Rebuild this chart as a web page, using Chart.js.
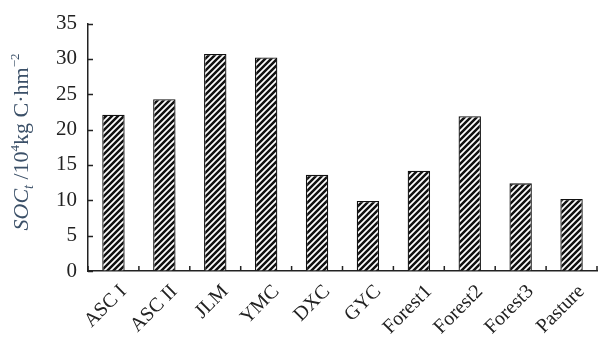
<!DOCTYPE html>
<html>
<head>
<meta charset="utf-8">
<script src="https://cdn.jsdelivr.net/npm/chart.js@4.4.1/dist/chart.umd.min.js"></script>
<style>
  html, body { margin: 0; padding: 0; background: #fff; }
  #wrap { width: 600px; height: 341px; }
</style>
</head>
<body>
<div id="wrap"><canvas id="c" width="600" height="341"></canvas></div>
<script>
// Soil organic carbon stock per site
const categories = ['ASC I', 'ASC II', 'JLM', 'YMC', 'DXC', 'GYC', 'Forest1', 'Forest2', 'Forest3', 'Pasture'];
const socValues = [22.1, 24.3, 30.7, 30.2, 13.6, 9.9, 14.2, 21.9, 12.4, 10.2];
const yTicks = [0, 5, 10, 15, 20, 25, 30, 35];

// Diagonal "/" hatch fill
function makeHatch() {
  const s = 6;
  const cv = document.createElement('canvas');
  cv.width = s; cv.height = s;
  const g = cv.getContext('2d');
  g.fillStyle = '#fff';
  g.fillRect(0, 0, s, s);
  g.strokeStyle = '#111';
  g.lineWidth = 2.5;
  g.beginPath();
  g.moveTo(0, s); g.lineTo(s, 0);
  g.moveTo(-2, 2); g.lineTo(2, -2);
  g.moveTo(s - 2, s + 2); g.lineTo(s + 2, s - 2);
  g.stroke();
  return g.createPattern(cv, 'repeat');
}

// Inward tick marks on both axes
const innerTicks = {
  id: 'innerTicks',
  afterDraw(chart) {
    const ctx = chart.ctx;
    const x = chart.scales.x, y = chart.scales.y;
    ctx.save();
    ctx.strokeStyle = '#222';
    ctx.lineWidth = 1.5;
    ctx.beginPath();
    yTicks.forEach(v => {
      const py = Math.round(y.getPixelForValue(v)) + 0.5;
      ctx.moveTo(x.left, py); ctx.lineTo(x.left + 5, py);
    });
    for (let i = 0; i <= categories.length; i++) {
      const px = i < categories.length
        ? (i === 0 ? x.left : (x.getPixelForValue(i - 1) + x.getPixelForValue(i)) / 2)
        : x.right;
      ctx.moveTo(px, y.bottom); ctx.lineTo(px, y.bottom - 5);
    }
    ctx.stroke();
    ctx.restore();
  }
};

// Rotated y-axis title with italic symbol, subscript and superscripts
const yTitle = {
  id: 'yTitle',
  afterDraw(chart) {
    const ctx = chart.ctx;
    const parts = [
      { t: 'SOC', f: 'italic 22px "Liberation Serif"', dy: 0 },
      { t: 't', f: 'italic 14px "Liberation Serif"', dy: 5 },
      { t: ' /10', f: '22px "Liberation Serif"', dy: 0 },
      { t: '4', f: '13px "Liberation Serif"', dy: -9 },
      { t: 'kg C\u00b7hm', f: '22px "Liberation Serif"', dy: 0 },
      { t: '\u22122', f: '13px "Liberation Serif"', dy: -9 }
    ];
    let total = 0;
    parts.forEach(p => { ctx.font = p.f; p.w = ctx.measureText(p.t).width; total += p.w; });
    ctx.save();
    ctx.translate(28, 142);
    ctx.rotate(-Math.PI / 2);
    ctx.fillStyle = '#3b5068';
    ctx.textBaseline = 'alphabetic';
    let cx = -total / 2;
    parts.forEach(p => {
      ctx.font = p.f;
      ctx.fillText(p.t, cx, p.dy);
      cx += p.w;
    });
    ctx.restore();
  }
};

new Chart(document.getElementById('c'), {
  type: 'bar',
  data: {
    labels: categories,
    datasets: [{
      data: socValues,
      backgroundColor: makeHatch(),
      borderColor: '#111',
      borderWidth: 1.3,
      barPercentage: 0.44,
      categoryPercentage: 1
    }]
  },
  options: {
    responsive: false,
    animation: false,
    devicePixelRatio: 1,
    layout: { padding: { top: 20, right: 3, left: 0, bottom: 0 } },
    plugins: { legend: { display: false }, tooltip: { enabled: false } },
    scales: {
      x: {
        grid: { display: true, drawOnChartArea: false, drawTicks: false },
        border: { display: true, color: '#222', width: 1.5 },
        ticks: {
          autoSkip: false,
          minRotation: 45,
          maxRotation: 45,
          padding: 9,
          labelOffset: 10,
          color: '#222',
          font: { family: '"Liberation Serif"', size: 20 }
        },
        afterFit(scale) { scale.height = 70; }
      },
      y: {
        min: 0,
        max: 35,
        grid: { display: true, drawOnChartArea: false, drawTicks: false },
        border: { display: true, color: '#222', width: 1.5 },
        afterBuildTicks(scale) { scale.ticks = yTicks.map(v => ({ value: v })); },
        ticks: {
          padding: 11,
          color: '#222',
          font: { family: '"Liberation Serif"', size: 21 }
        },
        afterFit(scale) { scale.width = 88; }
      }
    }
  },
  plugins: [innerTicks, yTitle]
});
</script>
</body>
</html>
